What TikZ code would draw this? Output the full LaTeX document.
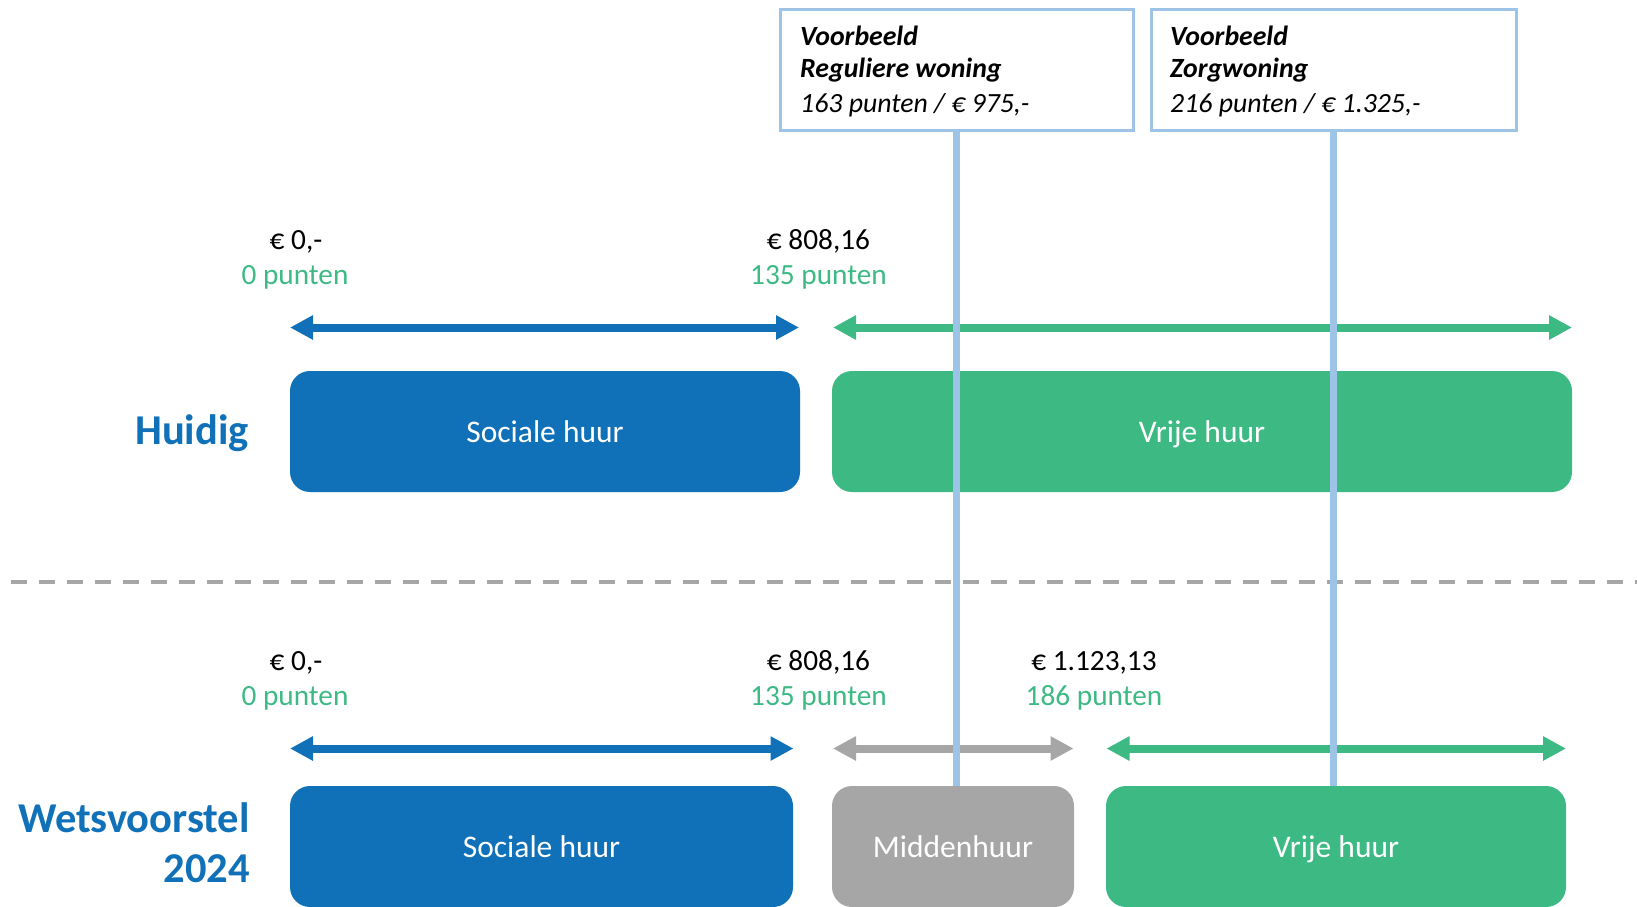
\documentclass[tikz,border=0pt]{standalone}
\usepackage{fontspec}
\setmainfont{Carlito}
\usetikzlibrary{arrows.meta}
\definecolor{cblue}{HTML}{1071B8}
\definecolor{cgreen}{HTML}{3DBA84}
\definecolor{cgray}{HTML}{A6A6A6}
\definecolor{clight}{HTML}{9DC3E6}
\begin{document}
\begin{tikzpicture}[x=1pt,y=-1pt,
  band/.style={rectangle, rounded corners=20pt, inner sep=0pt, text=white,
    font=\fontsize{31.5}{36}\selectfont, text height=22pt, text depth=0pt},
  span/.style={line width=8pt, {Triangle[length=23pt,width=23pt]}-{Triangle[length=23pt,width=23pt]}},
  price/.style={anchor=base, inner sep=0pt, font=\fontsize{29.3}{34}\selectfont},
  pts/.style={price, text=cgreen},
  heading/.style={anchor=base east, inner sep=0pt, text=cblue, font=\fontsize{42.5}{50}\selectfont\bfseries},
  callout/.style={rectangle, draw=clight, line width=3pt, fill=white, inner sep=0pt},
  calltext/.style={anchor=base west, inner sep=0pt, font=\fontsize{27.8}{33}\selectfont\itshape},
  callbold/.style={calltext, font=\fontsize{27.8}{33}\selectfont\bfseries\itshape},
  guide/.style={draw=clight, line width=7pt}
]
\useasboundingbox (0,0) rectangle (1637,906);
\clip (0,0) rectangle (1637,906);

% --- Huidig row ---
\node[band, fill=cblue, minimum width=510pt, minimum height=121pt] (soc1) at (545,431.5) {Sociale huur};
\node[band, fill=cgreen, minimum width=740pt, minimum height=121pt] (vrij1) at (1202,431.5) {Vrije huur};
\node[heading] (huidig) at (249,444) {Huidig};

\node[price] (p0a) at (296,249) {€ 0,-};
\node[pts] (q0a) at (295,284) {0 punten};
\node[price] (p1a) at (818.5,249) {€ 808,16};
\node[pts] (q1a) at (818.5,284) {135 punten};

\coordinate (a1l) at (290,327.5);
\coordinate (a1r) at (799,327.5);
\coordinate (a2l) at (833,327.5);
\coordinate (a2r) at (1572,327.5);
\draw[span, cblue] (a1l) -- (a1r);
\draw[span, cgreen] (a2l) -- (a2r);

% --- divider ---
\coordinate (dl) at (11,582);
\coordinate (dr) at (1637,582);
\draw[cgray, line width=4pt, dash pattern=on 16pt off 12pt] (dl) -- (dr);

% --- Wetsvoorstel row ---
\node[heading] (wets) at (250,832) {Wetsvoorstel};
\node[heading] (jaar) at (250,882) {2024};

\node[price] (p0b) at (296,670) {€ 0,-};
\node[pts] (q0b) at (295,705) {0 punten};
\node[price] (p1b) at (818.5,670) {€ 808,16};
\node[pts] (q1b) at (818.5,705) {135 punten};
\node[price] (p2b) at (1094,670) {€ 1.123,13};
\node[pts] (q2b) at (1094,705) {186 punten};

\coordinate (b1l) at (290,748.5);
\coordinate (b1r) at (793.5,748.5);
\coordinate (b2l) at (833,748.5);
\coordinate (b2r) at (1073.5,748.5);
\coordinate (b3l) at (1106.5,748.5);
\coordinate (b3r) at (1566,748.5);
\draw[span, cblue] (b1l) -- (b1r);
\draw[span, cgray] (b2l) -- (b2r);
\draw[span, cgreen] (b3l) -- (b3r);

\node[band, fill=cblue, minimum width=503pt, minimum height=121pt] (soc2) at (541.5,846.5) {Sociale huur};
\node[band, fill=cgray, minimum width=242pt, minimum height=121pt] (mid) at (953,846.5) {Middenhuur};
\node[band, fill=cgreen, minimum width=460pt, minimum height=121pt] (vrij2) at (1336,846.5) {Vrije huur};

% --- callouts ---
\node[callout, minimum width=353pt, minimum height=121pt] (call1) at (956.5,69.5) {};
\node[callout, minimum width=365pt, minimum height=121pt] (call2) at (1333.5,69.5) {};
\draw[guide] (call1.south) -- (call1.south |- mid.north);
\draw[guide] (call2.south) -- (call2.south |- vrij2.north);

\node[callbold] (c1a) at (800,45) {Voorbeeld};
\node[callbold] (c1b) at (800,77.5) {Reguliere woning};
\node[calltext] (c1c) at (800,112) {163 punten / € 975,-};
\node[callbold] (c2a) at (1170,45) {Voorbeeld};
\node[callbold] (c2b) at (1170,77.5) {Zorgwoning};
\node[calltext] (c2c) at (1170,112) {216 punten / € 1.325,-};
\end{tikzpicture}
\end{document}
